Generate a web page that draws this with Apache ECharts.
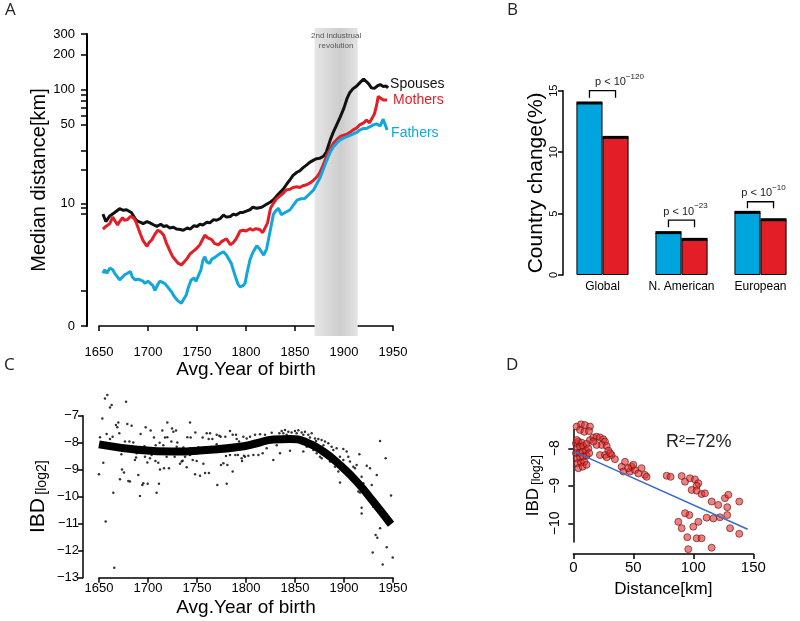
<!DOCTYPE html>
<html>
<head>
<meta charset="utf-8">
<script src="https://cdn.jsdelivr.net/npm/echarts@6/dist/echarts.min.js"></script>
<style>
  html, body { margin: 0; background: #fff; }
  #chart { width: 800px; height: 621px; }
</style>
</head>
<body>
<div id="chart"></div>
<script>
// ---- Panel A: median distance [km] by avg. year of birth ----
const spousesYears = [1654, 1657, 1661, 1666, 1671, 1675, 1678, 1683, 1688, 1692, 1695, 1699, 1702, 1706, 1709, 1713, 1716, 1719, 1722, 1726, 1729, 1733, 1736, 1740, 1743, 1747, 1750, 1753, 1756, 1760, 1763, 1767, 1770, 1774, 1777, 1780, 1784, 1787, 1790, 1794, 1797, 1801, 1804, 1807, 1811, 1816, 1821, 1825, 1828, 1831, 1835, 1838, 1842, 1845, 1848, 1852, 1855, 1858, 1862, 1865, 1869, 1872, 1875, 1879, 1882, 1886, 1889, 1893, 1896, 1900, 1903, 1906, 1909, 1913, 1917, 1920, 1922, 1925, 1928, 1931, 1934, 1937, 1940, 1943, 1945];
const spousesKm = [7.9, 6.7, 7.6, 8.2, 8.9, 8.6, 8.7, 8.2, 6.9, 6.6, 6.4, 6.7, 6.5, 6.2, 6.0, 6.3, 6.0, 6.1, 5.8, 5.9, 5.65, 5.6, 5.5, 5.8, 5.65, 6.1, 6.0, 6.3, 6.2, 6.6, 6.5, 7.0, 6.9, 7.2, 7.75, 7.4, 7.5, 7.9, 7.75, 8.2, 8.2, 8.5, 8.7, 9.2, 9.0, 9.2, 9.8, 10.3, 10.8, 11.6, 12.7, 13.5, 15.2, 16.5, 18.0, 19.2, 19.8, 21.0, 22.3, 23.5, 24.6, 25.3, 25.5, 26.6, 29, 37, 43, 51, 58, 70, 84, 95, 102, 108, 117, 124, 122, 113, 104, 103, 108, 111, 107, 108, 104];

const mothersYears = [1654, 1657, 1661, 1664, 1666, 1669, 1671, 1674, 1676, 1679, 1682, 1685, 1687, 1690, 1692, 1695, 1699, 1701, 1704, 1707, 1710, 1713, 1716, 1719, 1722, 1725, 1729, 1731, 1734, 1737, 1740, 1743, 1746, 1749, 1753, 1755, 1758, 1761, 1765, 1768, 1772, 1775, 1777, 1780, 1784, 1787, 1790, 1794, 1797, 1800, 1804, 1807, 1810, 1814, 1817, 1819, 1822, 1825, 1828, 1831, 1835, 1838, 1841, 1845, 1848, 1852, 1855, 1858, 1862, 1865, 1869, 1872, 1875, 1879, 1882, 1886, 1889, 1893, 1896, 1899, 1903, 1906, 1909, 1913, 1916, 1920, 1923, 1926, 1928, 1931, 1933, 1935, 1937, 1940, 1942, 1944];
const mothersKm = [5.65, 6.0, 6.4, 7.4, 7.2, 6.2, 6.7, 7.3, 6.9, 7.0, 7.5, 7.3, 6.9, 5.8, 5.1, 4.3, 3.75, 4.1, 4.4, 5.0, 5.5, 5.3, 4.9, 4.0, 3.4, 2.9, 2.55, 2.4, 2.3, 2.5, 2.75, 3.1, 3.3, 3.5, 3.9, 4.3, 4.9, 4.6, 4.4, 4.0, 3.9, 4.2, 4.4, 4.5, 3.9, 4.1, 4.5, 5.4, 5.5, 5.4, 5.7, 5.5, 5.7, 5.6, 5.2, 5.3, 6.5, 9.0, 10.0, 11.0, 11.8, 12.4, 13.3, 13.5, 14.0, 14.2, 14.0, 14.5, 14.8, 15.3, 16.3, 17.3, 18.8, 22.5, 26.5, 31, 34.5, 37.5, 39.5, 40.5, 41.5, 43, 45, 47, 50, 52, 55, 52, 53, 62, 72, 88, 85, 82, 80, 82];

const fathersYears = [1654, 1656, 1658, 1661, 1664, 1666, 1669, 1671, 1674, 1676, 1679, 1682, 1684, 1687, 1690, 1692, 1695, 1697, 1700, 1702, 1705, 1707, 1710, 1712, 1714, 1717, 1719, 1721, 1724, 1727, 1730, 1732, 1734, 1736, 1739, 1741, 1744, 1747, 1749, 1751, 1754, 1756, 1758, 1760, 1763, 1765, 1768, 1770, 1773, 1775, 1777, 1780, 1782, 1785, 1787, 1790, 1792, 1794, 1797, 1799, 1801, 1804, 1807, 1811, 1814, 1818, 1821, 1824, 1828, 1831, 1833, 1836, 1840, 1845, 1849, 1852, 1856, 1860, 1864, 1869, 1873, 1876, 1879, 1882, 1886, 1889, 1893, 1896, 1900, 1903, 1906, 1910, 1913, 1916, 1920, 1923, 1926, 1930, 1933, 1937, 1940, 1942, 1944];
const fathersKm = [1.8, 2.0, 1.8, 2.1, 2.0, 1.8, 1.6, 1.46, 1.6, 1.71, 1.8, 1.9, 1.6, 1.46, 1.5, 1.55, 1.4, 1.3, 1.4, 1.46, 1.2, 1.0, 1.25, 1.4, 1.46, 1.3, 1.2, 1.15, 0.95, 0.77, 0.65, 0.6, 0.56, 0.62, 0.83, 1.1, 1.46, 1.55, 1.4, 1.46, 2.0, 2.6, 2.87, 2.5, 2.4, 2.7, 2.8, 2.87, 3.1, 3.2, 3.27, 3.0, 2.87, 2.4, 2.0, 1.5, 1.25, 1.15, 1.2, 1.3, 1.8, 2.63, 3.2, 3.8, 3.5, 3.0, 3.5, 5.0, 7.9, 8.6, 9.0, 7.8, 8.2, 8.7, 9.8, 10.7, 11.0, 11.1, 12.0, 13.3, 15.5, 17.5, 20.5, 24, 29, 32, 35, 37, 38.5, 39.5, 40.5, 42, 43, 45, 46.5, 46.5, 48, 50, 51, 49, 56, 55, 45];

const distLabelKm = [0, 10, 50, 100, 200, 300];
const distTickKm = [0, 1, 8, 9, 10, 20, 30, 50, 60, 70, 80, 90, 100, 200, 300];
const industrialStart = 1870;
const industrialEnd = 1914;

// ---- Panel B: country change (%) ----
const regions = ['Global', 'N. American', 'European'];
const blueChange = [14.0, 3.45, 5.1];
const redChange = [11.2, 2.9, 4.5];
const bracketTop = [15.0, 4.47, 5.96];
const bracketLeg = [14.43, 3.88, 5.43];
const pExponent = ['\u2212120', '\u221223', '\u221210'];

// ---- Panel C: IBD [log2] by avg. year of birth ----
const cYear = [1658.5, 1656.1, 1662.9, 1661.2, 1677.6, 1653.4, 1667.3, 1669.7, 1668.7, 1678.9, 1683.3, 1651.0, 1657.8, 1663.9, 1661.2, 1670.7, 1676.5, 1681.0, 1685.0, 1692.5, 1697.6, 1702.7, 1706.1, 1719.7, 1714.6, 1724.5, 1725.9, 1728.6, 1719.7, 1717.3, 1723.8, 1729.9, 1742.9, 1748.3, 1740.1, 1743.5, 1759.9, 1763.3, 1755.8, 1761.9, 1765.6, 1770.1, 1772.8, 1774.1, 1778.9, 1783.7, 1786.4, 1789.8, 1797.3, 1790.5, 1792.9, 1672.8, 1654.4, 1650.0, 1673.5, 1675.5, 1671.4, 1679.9, 1681.6, 1690.1, 1695.2, 1694.2, 1699.7, 1687.8, 1686.7, 1699.3, 1702.0, 1707.5, 1710.5, 1712.2, 1716.3, 1721.4, 1711.2, 1664.6, 1708.8, 1691.8, 1734.4, 1732.7, 1735.4, 1739.5, 1745.6, 1749.7, 1748.0, 1753.1, 1758.2, 1762.2, 1756.5, 1770.7, 1774.5, 1776.9, 1781.0, 1779.6, 1783.7, 1786.4, 1789.1, 1791.8, 1795.9, 1797.9, 1780.3, 1656.8, 1665.6, 1691.8, 1696.3, 1703.7, 1729.3, 1736.1, 1742.9, 1751.4, 1758.2, 1765.0, 1770.1, 1707.8, 1711.9, 1681.6, 1696.9, 1719.0, 1727.2, 1742.9, 1703.7, 1715.6, 1708.8, 1688.4, 1737.8,
  1800.7, 1804.1, 1809.2, 1814.3, 1819.4, 1826.2, 1834.0, 1836.4, 1839.8, 1843.2, 1846.6, 1850.0, 1853.4, 1856.8, 1860.2, 1863.6, 1867.0, 1870.4, 1873.8, 1877.2, 1880.6, 1884.0, 1887.4, 1892.5, 1899.3, 1902.7, 1795.6, 1799.0, 1802.4, 1807.5, 1812.6, 1817.0, 1821.1, 1827.9, 1834.7, 1844.9, 1858.5, 1875.5, 1877.2, 1885.7, 1890.8, 1894.2, 1895.9, 1899.3, 1906.1, 1909.5, 1911.2, 1912.9, 1915.7, 1923.2, 1926.6, 1918.0, 1919.7, 1914.6, 1916.3, 1928.3, 1933.4, 1936.8, 1942.5, 1929.9, 1918.0, 1918.0, 1948.0, 1936.8, 1932.3, 1934.0, 1929.3, 1943.6, 1949.7, 1939.5, 1868.7, 1861.9, 1855.1, 1848.3, 1831.3, 1882.3, 1895.9, 1904.4, 1838.1, 1841.5, 1851.7, 1858.5, 1865.3, 1871.5, 1879.0, 1889.1, 1872.1];
const cIbd = [-6.23, -6.36, -6.60, -6.70, -6.48, -7.10, -7.34, -7.25, -7.43, -7.31, -7.37, -7.80, -7.68, -7.78, -7.86, -7.65, -7.96, -7.96, -7.99, -7.68, -7.43, -7.55, -7.81, -7.25, -7.55, -7.47, -7.59, -7.55, -7.80, -7.81, -7.96, -7.99, -7.25, -7.62, -7.80, -7.81, -7.65, -7.65, -7.81, -7.86, -7.86, -7.71, -7.74, -7.78, -7.78, -7.57, -7.71, -7.71, -7.78, -7.86, -7.96, -8.43, -8.74, -9.17, -8.99, -9.10, -9.35, -9.42, -9.44, -9.20, -9.50, -9.57, -9.52, -8.55, -8.64, -8.73, -8.58, -8.68, -8.74, -8.99, -8.95, -8.95, -9.52, -9.85, -9.85, -9.97, -8.70, -8.78, -8.67, -8.91, -8.64, -8.68, -9.17, -9.22, -9.12, -9.12, -8.78, -9.57, -8.83, -8.76, -8.83, -8.49, -8.46, -9.07, -8.46, -8.46, -8.68, -8.48, -9.52, -10.92, -12.63, -8.16, -8.13, -8.21, -8.15, -8.18, -8.21, -8.17, -8.21, -8.16, -8.06, -8.09, -8.00, -8.21, -8.52, -8.52, -8.52, -8.46, -8.46, -8.09, -8.39, -8.39, -8.52,
  -7.84, -7.78, -7.71, -7.69, -7.71, -7.63, -7.65, -7.57, -7.53, -7.59, -7.62, -7.57, -7.54, -7.62, -7.59, -7.71, -7.65, -7.84, -7.86, -7.90, -7.96, -8.02, -8.15, -8.21, -8.23, -8.33, -8.58, -8.52, -8.48, -8.46, -8.46, -8.39, -8.21, -8.64, -8.39, -8.30, -8.33, -8.52, -8.58, -8.70, -8.89, -9.07, -9.47, -8.64, -8.70, -8.89, -8.95, -8.83, -8.43, -8.85, -8.95, -9.26, -9.50, -9.81, -9.84, -9.57, -9.20, -7.94, -8.58, -10.37, -10.41, -10.62, -9.96, -11.17, -11.42, -11.52, -12.07, -11.87, -12.25, -12.51, -8.27, -8.15, -7.84, -7.96, -8.09, -8.33, -8.52, -8.52, -7.65, -7.71, -7.65, -7.71, -7.81, -7.94, -8.09, -8.27, -8.39];
const fitYear = [1650, 1692, 1726, 1760, 1794, 1811, 1828, 1845, 1862, 1879, 1896, 1913, 1930, 1948];
const fitIbd = [-8.06, -8.27, -8.33, -8.27, -8.15, -8.02, -7.88, -7.86, -7.99, -8.33, -8.83, -9.44, -10.19, -11.02];

// ---- Panel D: IBD [log2] by distance [km] ----
const dDist = [2.8, 6.4, 9.7, 13.9, 5.6, 9.2, 13.1, 2.2, 4.2, 6.9, 2.8, 5.6, 8.3, 11.1, 2.2, 5.0, 7.8, 10.6, 2.8, 5.6, 8.3, 11.1, 3.3, 6.4, 9.2, 4.2, 7.8, 11.1, 2.8, 12.5, 13.3, 13.9, 16.7, 19.4, 22.2, 25.0, 26.4, 23.6, 27.8, 29.2, 22.2, 26.4, 31.9, 34.7, 27.8, 30.6, 19.4, 16.7, 40.3, 43.1, 41.7, 47.2, 48.6, 51.4, 54.2, 56.9, 59.7, 61.1, 50.0, 45.8, 77.8, 81.1, 90.3, 93.1, 97.2, 101.4, 104.2, 102.8, 98.6, 102.8, 106.9, 109.7, 115.3, 120.8, 126.4, 129.2, 128.3, 138.3, 128.3, 122.2, 116.7, 111.1, 104.2, 96.7, 93.1, 87.5, 90.3, 100.0, 102.8, 106.9, 95.0, 95.8, 130.6, 138.3, 115.3];
const dIbd = [-7.42, -7.36, -7.38, -7.42, -7.51, -7.56, -7.54, -7.87, -7.82, -7.85, -8.00, -7.96, -7.94, -7.88, -8.13, -8.12, -8.09, -8.06, -8.27, -8.24, -8.22, -8.20, -8.40, -8.38, -8.36, -8.53, -8.49, -8.44, -7.78, -8.00, -8.13, -7.78, -7.71, -7.69, -7.71, -7.76, -7.82, -7.91, -7.94, -8.06, -8.18, -8.18, -8.18, -8.29, -8.24, -8.13, -7.91, -7.82, -8.49, -8.36, -8.62, -8.62, -8.49, -8.58, -8.67, -8.53, -8.71, -8.76, -8.44, -8.53, -8.73, -8.76, -8.74, -8.89, -8.80, -8.83, -8.93, -9.00, -9.11, -9.13, -9.22, -9.20, -9.42, -9.51, -9.33, -9.24, -9.57, -9.42, -9.78, -9.84, -9.87, -9.85, -9.96, -9.78, -9.73, -9.96, -10.13, -10.09, -10.40, -10.40, -10.37, -10.69, -10.13, -10.28, -10.65];
const regDist = [0.8, 145.3];
const regIbd = [-8.09, -10.16];

// ---- styles ----
const FONT = '"Liberation Sans", Arial, sans-serif';
const BLACK = '#111111';
const RED = '#e31e26';
const BLUE = '#12a6de';
const BAR_GAP = 0.34;
const pTextShift = [17, 4, 3];

const logKm = v => Math.log10(v + 1);
const pairs = (xs, ys, f) => xs.map((x, i) => [x, f ? f(ys[i]) : ys[i]]);
const minus = v => String(v).replace('-', '\u2212');
const plain = v => String(v);

const axisLine = { lineStyle: { color: '#000', width: 1.5 } };
const axisTick = { length: 5, lineStyle: { color: '#000', width: 1.5 } };

const chart = echarts.init(document.getElementById('chart'));

function lineSeries(name, years, km, color, distance, dy) {
  return {
    name: name,
    type: 'line',
    xAxisIndex: 0,
    yAxisIndex: 0,
    data: pairs(years, km, logKm),
    showSymbol: false,
    lineStyle: { color: color, width: 3 },
    itemStyle: { color: color },
    endLabel: {
      show: true,
      formatter: name,
      color: color,
      fontSize: 14,
      fontFamily: FONT,
      distance: distance,
      offset: [0, dy]
    },
    z: 3
  };
}

function errorTop(side) {
  return (params, api) => {
    const c = api.coord([api.value(0), api.value(1)]);
    const bw = api.size([1, 0])[0] * (1 - BAR_GAP) / 2;
    const x0 = side < 0 ? c[0] - bw : c[0];
    return {
      type: 'rect',
      shape: { x: x0, y: c[1] - 1.5, width: bw, height: 3 },
      style: { fill: '#000' }
    };
  };
}

const option = {
  animation: false,
  textStyle: { fontFamily: FONT, color: '#000' },
  grid: [
    { left: 99, top: 34, width: 294, height: 292 },
    { left: 99, top: 28, width: 294, height: 308 },
    { left: 563, top: 90.7, width: 249, height: 184.3 },
    { left: 99, top: 415.7, width: 294, height: 162 },
    { left: 573.3, top: 429.55, width: 180, height: 112.5 }
  ],
  xAxis: [
    {
      gridIndex: 0, type: 'value', min: 1650, max: 1950, interval: 50, offset: 12,
      axisLine: axisLine, axisTick: axisTick, splitLine: { show: false },
      axisLabel: { fontSize: 13, color: '#000', margin: 8, formatter: plain },
      name: 'Avg.Year of birth', nameLocation: 'middle', nameGap: 22,
      nameTextStyle: { fontSize: 19, color: '#000' }
    },
    { gridIndex: 1, type: 'value', min: 1650, max: 1950, show: false },
    {
      gridIndex: 2, type: 'category', data: regions,
      axisLine: { show: false }, axisTick: { show: false },
      axisLabel: { fontSize: 12, color: '#000', margin: 6, interval: 0 }
    },
    {
      gridIndex: 3, type: 'value', min: 1650, max: 1950, interval: 50,
      axisLine: axisLine, axisTick: axisTick, splitLine: { show: false },
      axisLabel: { fontSize: 13, color: '#000', margin: 4, formatter: plain },
      name: 'Avg.Year of birth', nameLocation: 'middle', nameGap: 21,
      nameTextStyle: { fontSize: 19, color: '#000' }
    },
    {
      gridIndex: 4, type: 'value', min: 0, max: 150, interval: 50, offset: 12,
      axisLine: axisLine, axisTick: axisTick, splitLine: { show: false },
      axisLabel: { fontSize: 15, color: '#000', margin: 6 },
      name: 'Distance[km]', nameLocation: 'middle', nameGap: 27,
      nameTextStyle: { fontSize: 17, color: '#000' }
    }
  ],
  yAxis: [
    {
      gridIndex: 0, type: 'value', min: 0, max: logKm(300), offset: 12,
      axisLine: { show: true, lineStyle: { color: '#000', width: 2 } },
      axisTick: { show: true, length: 6, lineStyle: { color: '#000', width: 1.5 }, customValues: distTickKm.map(logKm) },
      axisLabel: { fontSize: 13, color: '#000', margin: 12, customValues: distLabelKm.map(logKm), formatter: v => String(Math.round(Math.pow(10, v) - 1)) },
      splitLine: { show: false },
      name: 'Median distance[km]', nameLocation: 'middle', nameGap: 32,
      nameTextStyle: { fontSize: 20, color: '#000' }
    },
    { gridIndex: 1, type: 'value', min: 0, max: 1, show: false },
    {
      gridIndex: 2, type: 'value', min: 0, max: 15, interval: 5,
      axisLine: { show: true, lineStyle: { color: '#000', width: 1.5 } }, axisTick: { show: true, length: 5, lineStyle: { color: '#000', width: 1.5 } },
      axisLabel: { fontSize: 11, color: '#000', rotate: 90, margin: 4 },
      splitLine: { show: false },
      name: 'Country change(%)', nameLocation: 'middle', nameGap: 14,
      nameTextStyle: { fontSize: 21, color: '#000' }
    },
    {
      gridIndex: 3, type: 'value', min: -13, max: -7, interval: 1, offset: 16,
      axisLine: { show: true, lineStyle: { color: '#000', width: 1.5 } }, axisTick: { show: true, length: 5, lineStyle: { color: '#000', width: 1.5 } },
      axisLabel: { fontSize: 13, color: '#000', margin: 4, formatter: minus },
      splitLine: { show: false },
      name: '{a|IBD} {b|[log2]}', nameLocation: 'middle', nameGap: 34,
      nameTextStyle: { rich: {
        a: { fontSize: 21, fontFamily: FONT, color: '#000', verticalAlign: 'bottom', lineHeight: 24 },
        b: { fontSize: 14, fontFamily: FONT, color: '#000', verticalAlign: 'bottom', lineHeight: 24 }
      } }
    },
    {
      gridIndex: 4, type: 'value', min: -10.5, max: -7.5, offset: 5,
      axisLine: { show: true, lineStyle: { color: '#000', width: 1.5 } },
      axisTick: { show: true, length: 5, lineStyle: { color: '#000', width: 1.5 }, customValues: [-10, -9, -8] },
      axisLabel: { fontSize: 14, color: '#000', rotate: 90, margin: 6, customValues: [-10, -9, -8], formatter: minus },
      splitLine: { show: false },
      name: '{a|IBD} {b|[log2]}', nameLocation: 'middle', nameGap: 26,
      nameTextStyle: { rich: {
        a: { fontSize: 17, fontFamily: FONT, color: '#000', verticalAlign: 'bottom', lineHeight: 20 },
        b: { fontSize: 12, fontFamily: FONT, color: '#000', verticalAlign: 'bottom', lineHeight: 20 }
      } }
    }
  ],
  graphic: [
    { type: 'text', left: 5, top: 2, style: { text: 'A', fontSize: 17, fontFamily: 'Open Sans', fill: '#222' } },
    { type: 'text', left: 507, top: 2, style: { text: 'B', fontSize: 17, fontFamily: 'Open Sans', fill: '#222' } },
    { type: 'text', left: 4, top: 357, style: { text: 'C', fontSize: 17, fontFamily: 'Open Sans', fill: '#222' } },
    { type: 'text', left: 506, top: 357, style: { text: 'D', fontSize: 17, fontFamily: 'Open Sans', fill: '#222' } },
    { type: 'text', left: 666, top: 433, style: { text: 'R\u00b2=72%', fontSize: 18, fontFamily: FONT, fill: '#222' } }
  ],
  series: [
    {
      name: 'industrial', type: 'line', xAxisIndex: 1, yAxisIndex: 1, data: [], silent: true, z: 0,
      markArea: {
        silent: true,
        itemStyle: {
          color: new echarts.graphic.LinearGradient(0, 0, 1, 0, [
            { offset: 0, color: '#e6e6e6' },
            { offset: 0.6, color: '#cdcdcd' },
            { offset: 1, color: '#e4e4e4' }
          ])
        },
        label: {
          show: true, position: 'insideTop', distance: 3,
          formatter: '2nd industrual\nrevolution',
          fontSize: 8, lineHeight: 10, color: '#555', fontFamily: FONT
        },
        data: [[{ xAxis: industrialStart, yAxis: 0 }, { xAxis: industrialEnd, yAxis: 1 }]]
      }
    },
    lineSeries('Spouses', spousesYears, spousesKm, BLACK, 2, -4),
    lineSeries('Mothers', mothersYears, mothersKm, RED, 6, 0),
    lineSeries('Fathers', fathersYears, fathersKm, BLUE, 4, 3),
    {
      name: 'blue', type: 'bar', xAxisIndex: 2, yAxisIndex: 2, data: blueChange,
      barGap: '0%', barCategoryGap: (BAR_GAP * 100) + '%',
      itemStyle: { color: '#00a5dd', borderColor: '#000', borderWidth: 1 }
    },
    {
      name: 'red', type: 'bar', xAxisIndex: 2, yAxisIndex: 2, data: redChange,
      barGap: '0%', barCategoryGap: (BAR_GAP * 100) + '%',
      itemStyle: { color: '#e31e26', borderColor: '#000', borderWidth: 1 }
    },
    {
      type: 'custom', xAxisIndex: 2, yAxisIndex: 2, silent: true, z: 4,
      data: blueChange.map((v, i) => [i, v]), renderItem: errorTop(-1)
    },
    {
      type: 'custom', xAxisIndex: 2, yAxisIndex: 2, silent: true, z: 4,
      data: redChange.map((v, i) => [i, v]), renderItem: errorTop(1)
    },
    {
      type: 'custom', xAxisIndex: 2, yAxisIndex: 2, silent: true, z: 4,
      data: bracketTop.map((v, i) => [i, v, bracketLeg[i]]),
      renderItem: (params, api) => {
        const i = api.value(0);
        const top = api.coord([i, api.value(1)]);
        const leg = api.coord([i, api.value(2)]);
        const half = api.size([1, 0])[0] * (1 - BAR_GAP) / 4;
        const x1 = top[0] - half, x2 = top[0] + half;
        return {
          type: 'group',
          children: [
            {
              type: 'polyline',
              shape: { points: [[x1, leg[1]], [x1, top[1]], [x2, top[1]], [x2, leg[1]]] },
              style: { stroke: '#000', lineWidth: 1.3, fill: null }
            },
            {
              type: 'text', x: top[0] + pTextShift[i], y: top[1] - 3,
              style: {
                text: '{a|p < 10}{b|' + pExponent[i] + '}',
                align: 'center', verticalAlign: 'bottom', fill: '#222',
                rich: {
                  a: { fontSize: 11, fontFamily: FONT, fill: '#222', verticalAlign: 'bottom', lineHeight: 15 },
                  b: { fontSize: 8, fontFamily: FONT, fill: '#222', verticalAlign: 'top', lineHeight: 15 }
                }
              }
            }
          ]
        };
      }
    },
    {
      name: 'IBD by year', type: 'scatter', xAxisIndex: 3, yAxisIndex: 3, clip: false,
      data: pairs(cYear, cIbd), symbolSize: 2.5, itemStyle: { color: '#000' }
    },
    {
      name: 'fit', type: 'line', xAxisIndex: 3, yAxisIndex: 3, smooth: true, showSymbol: false,
      data: pairs(fitYear, fitIbd), lineStyle: { color: '#000', width: 8 }, z: 3
    },
    {
      name: 'IBD by distance', type: 'scatter', xAxisIndex: 4, yAxisIndex: 4, clip: false,
      data: pairs(dDist, dIbd), symbolSize: 7,
      itemStyle: { color: 'rgba(232,44,44,0.75)', borderColor: '#5a1212', borderWidth: 0.8 }
    },
    {
      name: 'regression', type: 'line', xAxisIndex: 4, yAxisIndex: 4, showSymbol: false,
      data: pairs(regDist, regIbd), lineStyle: { color: '#3a6cc4', width: 1.5 }, z: 3
    }
  ]
};

chart.setOption(option);
</script>
</body>
</html>
